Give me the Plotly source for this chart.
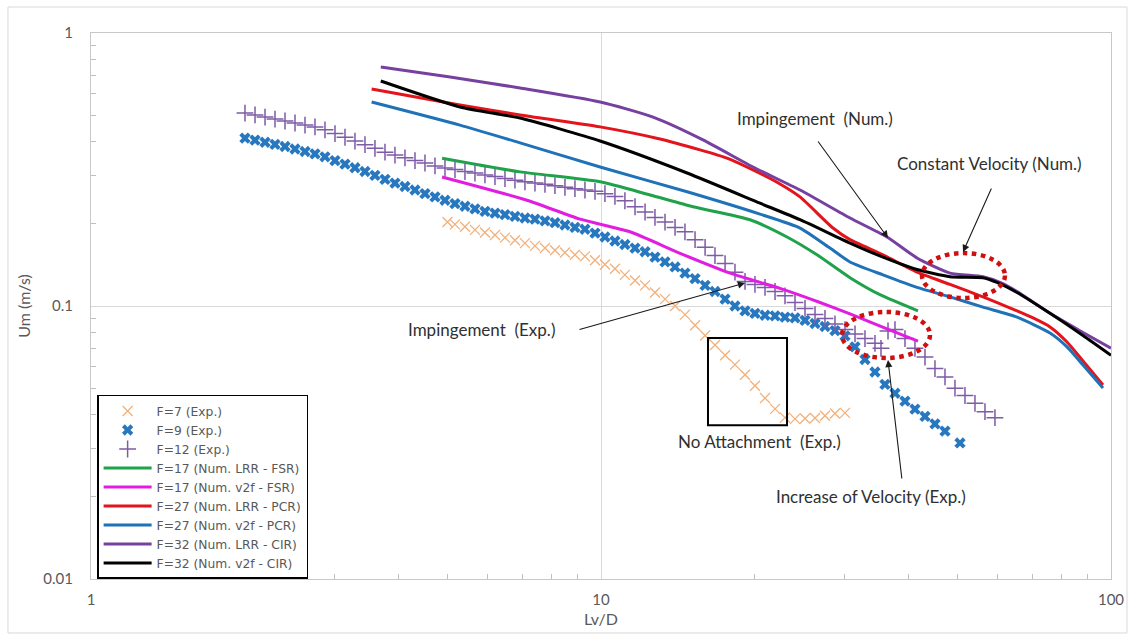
import numpy as np
import plotly.graph_objects as go

# ---------------- Experimental data (Lv/D, Um [m/s]) ----------------
f7_lvd = [5.0, 5.172, 5.411, 5.661, 5.922, 6.196, 6.482, 6.781, 7.094, 7.422,
          7.765, 8.123, 8.498, 8.891, 9.301, 9.733, 10.18, 10.65, 11.14, 11.66,
          12.20, 12.76, 13.35, 13.97, 14.61, 15.29, 16.00, 16.73, 17.51, 18.31,
          19.16, 20.04, 20.97, 21.94, 22.95, 24.01, 25.12, 26.28, 27.49, 28.76,
          30.09]
f7_um = [0.203, 0.199, 0.195, 0.190, 0.186, 0.182, 0.178, 0.174, 0.170, 0.166,
         0.163, 0.160, 0.157, 0.154, 0.152, 0.147, 0.142, 0.137, 0.130, 0.124,
         0.119, 0.112, 0.106, 0.100, 0.093, 0.085, 0.078, 0.072, 0.066, 0.061,
         0.056, 0.051, 0.046, 0.042, 0.039, 0.0386, 0.0387, 0.0389, 0.0396, 0.0404,
         0.0406]

f9_lvd = [2.004, 2.097, 2.194, 2.295, 2.401, 2.512, 2.628, 2.749, 2.876, 3.009,
          3.148, 3.293, 3.445, 3.604, 3.771, 3.945, 4.127, 4.318, 4.517, 4.726,
          4.944, 5.172, 5.411, 5.661, 5.922, 6.196, 6.482, 6.781, 7.094, 7.422,
          7.765, 8.123, 8.498, 8.891, 9.301, 9.733, 10.18, 10.65, 11.14, 11.66,
          12.20, 12.76, 13.35, 13.97, 14.61, 15.29, 16.00, 16.73, 17.51, 18.31,
          19.16, 20.04, 20.97, 21.94, 22.95, 24.01, 25.12, 26.28, 27.49, 28.76,
          30.09, 31.48, 32.93, 34.45, 36.04, 37.71, 39.45, 41.27, 43.18, 45.17,
          47.26, 50.57]
f9_um = [0.412, 0.405, 0.398, 0.391, 0.384, 0.376, 0.368, 0.361, 0.352, 0.341,
         0.331, 0.321, 0.311, 0.301, 0.291, 0.282, 0.274, 0.266, 0.258, 0.251,
         0.244, 0.237, 0.232, 0.227, 0.222, 0.219, 0.216, 0.213, 0.210, 0.208,
         0.205, 0.202, 0.198, 0.194, 0.191, 0.185, 0.179, 0.173, 0.168, 0.163,
         0.158, 0.151, 0.145, 0.139, 0.132, 0.126, 0.119, 0.113, 0.106, 0.100,
         0.096, 0.094, 0.0925, 0.092, 0.091, 0.0905, 0.0886, 0.0863, 0.0841, 0.0813,
         0.0777, 0.0708, 0.0637, 0.0573, 0.0516, 0.0479, 0.0448, 0.0419, 0.0394, 0.0370,
         0.0348, 0.0315]

f12_lvd = [2.004, 2.097, 2.194, 2.295, 2.401, 2.512, 2.628, 2.749, 2.876, 3.009,
           3.148, 3.293, 3.445, 3.604, 3.771, 3.945, 4.127, 4.318, 4.517, 4.726,
           4.944, 5.172, 5.411, 5.661, 5.922, 6.196, 6.482, 6.781, 7.094, 7.422,
           7.765, 8.123, 8.498, 8.891, 9.301, 9.733, 10.18, 10.65, 11.14, 11.66,
           12.20, 12.76, 13.35, 13.97, 14.61, 15.29, 16.00, 16.73, 17.51, 18.31,
           19.16, 20.04, 20.97, 21.94, 22.95, 24.01, 25.12, 26.28, 27.49, 28.76,
           30.09, 31.48, 32.93, 34.45, 35.40, 36.54, 37.71, 39.45, 41.27, 43.18,
           45.17, 47.26, 49.44, 51.72, 54.11, 56.61, 59.22]
f12_um = [0.509, 0.501, 0.492, 0.484, 0.476, 0.468, 0.460, 0.453, 0.442, 0.428,
          0.415, 0.402, 0.390, 0.378, 0.366, 0.357, 0.349, 0.341, 0.334, 0.326,
          0.320, 0.316, 0.311, 0.307, 0.302, 0.298, 0.293, 0.289, 0.285, 0.282,
          0.279, 0.276, 0.272, 0.269, 0.266, 0.263, 0.258, 0.252, 0.243, 0.231,
          0.221, 0.211, 0.203, 0.194, 0.187, 0.175, 0.164, 0.153, 0.143, 0.133,
          0.123, 0.120, 0.117, 0.113, 0.109, 0.103, 0.098, 0.093, 0.090, 0.086,
          0.082, 0.079, 0.076, 0.073, 0.070, 0.081, 0.082, 0.076, 0.070, 0.065,
          0.059, 0.055, 0.050, 0.047, 0.044, 0.041, 0.039]

# ---------------- Numerical results ----------------
f17_lrr_lvd = [4.88, 6.94, 9.96, 12.48, 15.15, 19.60, 23.16, 26.52, 30.78, 35.24, 41.83]
f17_lrr_um = [0.348, 0.310, 0.285, 0.255, 0.231, 0.207, 0.179, 0.154, 0.127, 0.110, 0.096]

f17_v2f_lvd = [4.88, 7.16, 9.10, 11.40, 14.29, 17.91, 22.44, 26.88, 30.78, 36.37, 41.83]
f17_v2f_um = [0.297, 0.244, 0.208, 0.187, 0.156, 0.132, 0.116, 0.103, 0.0935, 0.0824, 0.0744]

f27_lrr_lvd = [3.55, 5.29, 6.94, 9.96, 13.05, 15.64, 17.66, 19.86, 22.44, 24.56, 28.50,
               30.78, 35.72, 41.65, 48.34, 56.10, 65.42, 70.34, 75.93, 81.99, 88.12, 96.45]
f27_lrr_um = [0.624, 0.545, 0.501, 0.453, 0.409, 0.373, 0.348, 0.315, 0.280, 0.251, 0.193,
              0.175, 0.154, 0.133, 0.120, 0.108, 0.0959, 0.0904, 0.0838, 0.0738, 0.0629, 0.0514]

f27_v2f_lvd = [3.55, 5.29, 6.94, 9.96, 14.75, 20.50, 24.56, 28.12, 30.78, 35.72, 41.65,
               48.34, 56.10, 65.42, 75.93, 81.99, 88.12, 96.45]
f27_v2f_um = [0.559, 0.460, 0.396, 0.323, 0.262, 0.217, 0.193, 0.163, 0.145, 0.130, 0.117,
              0.108, 0.099, 0.091, 0.0796, 0.0708, 0.0608, 0.0501]

f32_lrr_lvd = [3.70, 5.06, 6.94, 9.96, 12.65, 15.85, 19.86, 24.56, 30.78, 36.37, 41.65,
               48.34, 56.10, 60.58, 65.42, 75.93, 88.12, 100.0]
f32_lrr_um = [0.751, 0.690, 0.629, 0.559, 0.492, 0.406, 0.323, 0.266, 0.210, 0.179, 0.150,
              0.132, 0.128, 0.122, 0.113, 0.094, 0.080, 0.070]

f32_v2f_lvd = [3.70, 5.29, 6.94, 9.96, 14.75, 20.50, 24.56, 30.78, 35.72, 41.65, 48.34,
               56.10, 59.76, 65.42, 75.93, 88.12, 100.0]
f32_v2f_um = [0.667, 0.536, 0.488, 0.402, 0.307, 0.238, 0.207, 0.170, 0.151, 0.136, 0.128,
              0.127, 0.122, 0.112, 0.094, 0.078, 0.066]

x_ticks = [1, 10, 100]
x_ticktext = ["1", "10", "100"]
y_ticks = [0.01, 0.1, 1]
y_ticktext = ["0.01", "0.1", "1"]

# minor ticks at 2..9 within every decade
x_minor = [k * 10.0 ** e for e in (0, 1) for k in range(2, 10)]
y_minor = [k * 10.0 ** e for e in (-2, -1) for k in range(2, 10)]

FONT = "Lato, Carlito, 'Liberation Sans', sans-serif"
LEGEND_FONT = "'DejaVu Sans', sans-serif"
GREY = "#595959"

fig = go.Figure()

# experimental markers
fig.add_trace(go.Scatter(
    x=f7_lvd, y=f7_um, mode="markers", name="F=7 (Exp.)",
    marker=dict(symbol="x-thin-open", size=10, color="#F2B07A",
                line=dict(color="#F2B07A", width=1.3))))
fig.add_trace(go.Scatter(
    x=f9_lvd, y=f9_um, mode="markers", name="F=9 (Exp.)",
    marker=dict(symbol="x", size=10, color="#2878C0", line=dict(width=0))))
fig.add_trace(go.Scatter(
    x=f12_lvd, y=f12_um, mode="markers", name="F=12 (Exp.)",
    marker=dict(symbol="cross-thin-open", size=12, color="#7D5BA6",
                line=dict(color="#7D5BA6", width=1.5))))

# numerical curves
num_series = [
    (f17_lrr_lvd, f17_lrr_um, "F=17 (Num. LRR - FSR)", "#1FA24A"),
    (f17_v2f_lvd, f17_v2f_um, "F=17 (Num. v2f - FSR)", "#E11DE1"),
    (f27_lrr_lvd, f27_lrr_um, "F=27 (Num. LRR - PCR)", "#E3141B"),
    (f27_v2f_lvd, f27_v2f_um, "F=27 (Num. v2f - PCR)", "#1F72B8"),
    (f32_lrr_lvd, f32_lrr_um, "F=32 (Num. LRR - CIR)", "#7640A0"),
    (f32_v2f_lvd, f32_v2f_um, "F=32 (Num. v2f - CIR)", "#000000"),
]
for xs, ys, name, color in num_series:
    fig.add_trace(go.Scatter(
        x=xs, y=ys, mode="lines", name=name,
        line=dict(color=color, width=3, shape="spline", smoothing=0.6)))

# ---------------- Annotations ----------------
TXT = dict(family=FONT, size=17, color="#303030")
NB = "\u00a0"
labels = [
    ("Impingement " + NB + "(Num.)", 26.3, 0.488),
    ("Constant Velocity (Num.)", 57.7, 0.334),
    ("Impingement " + NB + "(Exp.)", 5.82, 0.0817),
    ("No Attachment " + NB + "(Exp.)", 20.5, 0.0320),
    ("Increase of Velocity (Exp.)", 33.8, 0.0200),
]
for text, lx, ly in labels:
    fig.add_annotation(x=np.log10(lx), y=np.log10(ly), text=text, showarrow=False,
                       font=TXT, xanchor="center", yanchor="middle")

# arrows: tip position in data units, tail offset in px
arrows = [
    (36.54, 0.1775, -71, -98),
    (51.27, 0.1577, 29, -65),
    (19.16, 0.1214, -167, 47),
    (36.54, 0.0634, 14, 120),
]
for tx, ty, dx, dy in arrows:
    fig.add_annotation(x=np.log10(tx), y=np.log10(ty), ax=dx, ay=dy, text="",
                       showarrow=True, arrowhead=2, arrowsize=1.3, arrowwidth=1.1,
                       arrowcolor="#1A1A1A", standoff=0)

# highlighted regions
fig.add_shape(type="circle", xref="x", yref="y", x0=42.6, x1=61.96, y0=0.107, y1=0.1563,
              line=dict(color="#D01010", width=4.5, dash="dot"))
fig.add_shape(type="circle", xref="x", yref="y", x0=29.69, x1=44.17, y0=0.0645, y1=0.0951,
              line=dict(color="#D01010", width=4.5, dash="dot"))
fig.add_shape(type="rect", xref="x", yref="y", x0=16.21, x1=23.16, y0=0.0366, y1=0.0763,
              line=dict(color="#000000", width=2))

# chart-area frame
fig.add_shape(type="rect", xref="paper", yref="paper",
              x0=-0.0814, x1=1.0157, y0=-0.0989, y1=1.0476,
              line=dict(color="#D9D9D9", width=1), layer="below")

axis_common = dict(
    type="log", showgrid=True, gridcolor="#D9D9D9", gridwidth=1,
    showline=True, linecolor="#C8C8C8", linewidth=1, mirror=True,
    zeroline=False, ticks="", tickfont=dict(family=FONT, size=15, color=GREY),
)

fig.update_layout(
    template="none",
    width=1135, height=634,
    margin=dict(l=91, r=24, t=33, b=55),
    paper_bgcolor="white", plot_bgcolor="white",
    font=dict(family=FONT, color=GREY),
    xaxis=dict(range=[0, 2], tickmode="array", tickvals=x_ticks, ticktext=x_ticktext,
               ticklabelstandoff=7,
               minor=dict(tickmode="array", tickvals=x_minor, ticks="inside", ticklen=5,
                          tickcolor="#BFBFBF", showgrid=False),
               title=dict(text="Lv/D", font=dict(family=FONT, size=16, color=GREY), standoff=6),
               **axis_common),
    yaxis=dict(range=[-2, 0], tickmode="array", tickvals=y_ticks, ticktext=y_ticktext,
               ticklabelstandoff=14,
               minor=dict(tickmode="array", tickvals=y_minor, ticks="inside", ticklen=5,
                          tickcolor="#BFBFBF", showgrid=False),
               title=dict(text="Um (m/s)", font=dict(family=FONT, size=16, color=GREY), standoff=8),
               **axis_common),
    legend=dict(x=0.006, y=0.337, xanchor="left", yanchor="top",
                bgcolor="white", bordercolor="#000000", borderwidth=1.5,
                font=dict(family=LEGEND_FONT, size=12.3, color=GREY),
                itemwidth=48, tracegroupgap=0),
    showlegend=True,
)

fig.write_html("out.html")
